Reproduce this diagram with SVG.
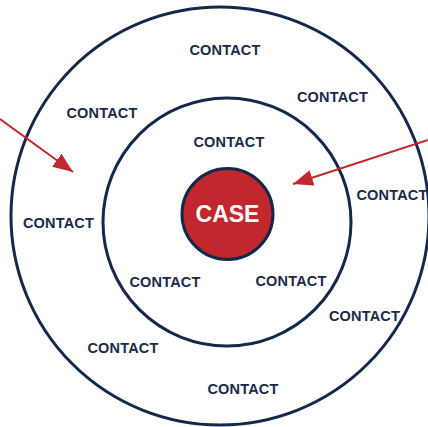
<svg xmlns="http://www.w3.org/2000/svg" width="428" height="427" viewBox="0 0 428 427">
<style>
.ring{fill:none;stroke:#14284b;stroke-width:3}
.lbl{font-family:"Liberation Sans",Arial,sans-serif;font-weight:bold;font-size:14.5px;fill:#1b2a4a;text-anchor:middle;letter-spacing:0.2px}
.arrow{stroke:#c1272d;stroke-width:2;fill:none}
</style>
<defs>
<marker id="head" markerUnits="userSpaceOnUse" markerWidth="20" markerHeight="16" refX="20" refY="8" orient="auto">
<path d="M0,0 L20,8 L0,16 z" fill="#c1272d"/>
</marker>
</defs>
<rect width="428" height="427" fill="#ffffff"/>
<g id="outer-ring"><circle class="ring" cx="220" cy="216" r="209"/></g>
<g id="inner-ring"><circle class="ring" cx="227" cy="222" r="124"/></g>
<g id="case">
<circle cx="227.5" cy="214" r="45.5" fill="#c1272d" stroke="#14284b" stroke-width="3"/>
<text x="227.5" y="222" font-family="Liberation Sans,Arial,sans-serif" font-weight="bold" font-size="23" fill="#ffffff" text-anchor="middle">CASE</text>
</g>
<g id="contact-1"><text class="lbl" x="225" y="55">CONTACT</text></g>
<g id="contact-2"><text class="lbl" x="332.5" y="101.5">CONTACT</text></g>
<g id="contact-3"><text class="lbl" x="102" y="117.5">CONTACT</text></g>
<g id="contact-4"><text class="lbl" x="229" y="147">CONTACT</text></g>
<g id="contact-5"><text class="lbl" x="392" y="200">CONTACT</text></g>
<g id="contact-6"><text class="lbl" x="58.5" y="227.5">CONTACT</text></g>
<g id="contact-7"><text class="lbl" x="165" y="286.5">CONTACT</text></g>
<g id="contact-8"><text class="lbl" x="291" y="286">CONTACT</text></g>
<g id="contact-9"><text class="lbl" x="364.5" y="321">CONTACT</text></g>
<g id="contact-10"><text class="lbl" x="123" y="353">CONTACT</text></g>
<g id="contact-11"><text class="lbl" x="243" y="394">CONTACT</text></g>
<g id="connectors">
<line class="arrow" x1="0" y1="119" x2="73" y2="172" marker-end="url(#head)"/>
<line class="arrow" x1="428" y1="140" x2="293" y2="184" marker-end="url(#head)"/>
</g>
</svg>
